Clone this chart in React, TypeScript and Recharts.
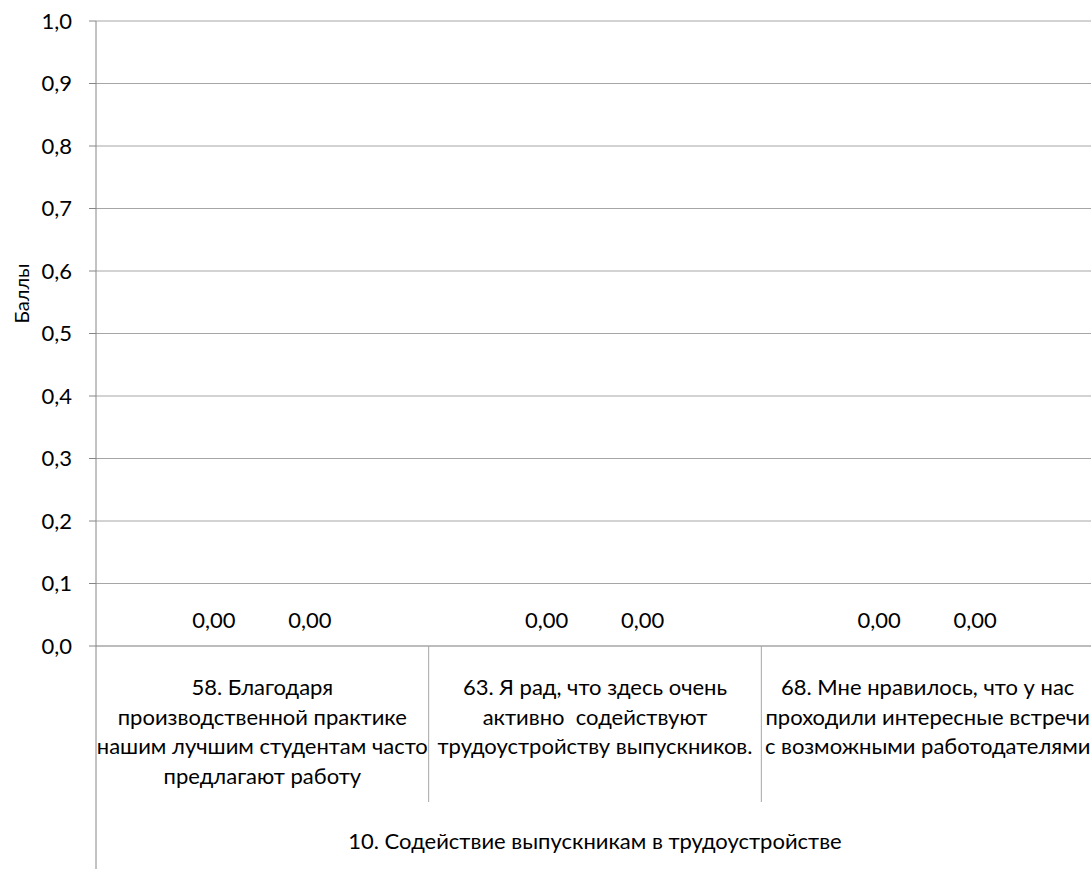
import { BarChart, Bar, XAxis, YAxis, CartesianGrid, LabelList } from "recharts";

// categories (full text) and how they wrap under the axis
const categories = [
    "58. Благодаря производственной практике нашим лучшим студентам часто предлагают работу",
    "63. Я рад, что здесь очень активно  содействуют трудоустройству выпускников.",
    "68. Мне нравилось, что у нас проходили интересные встречи с возможными работодателями",
];
const categoryLines = [
    ["58. Благодаря", "производственной практике", "нашим лучшим студентам часто", "предлагают работу"],
    ["63. Я рад, что здесь очень", "активно  содействуют", "трудоустройству выпускников."],
    ["68. Мне нравилось, что у нас", "проходили интересные встречи", "с возможными работодателями"],
];
const groupLabel = "10. Содействие выпускникам в трудоустройстве";

const seriesA = [0, 0, 0];
const seriesB = [0, 0, 0];

const yTicks = [0, 0.1, 0.2, 0.3, 0.4, 0.5, 0.6, 0.7, 0.8, 0.9, 1.0];

const FONT = "Lato, 'Open Sans', sans-serif";
const FS = 22;
const CHART_W = 1100;
const CHART_H = 869;
const MARGIN = { top: 21, right: 6, left: 0, bottom: 0 };
const Y_AXIS_W = 96;
const X_AXIS_H = 223;
const PLOT_LEFT = MARGIN.left + Y_AXIS_W;
const PLOT_RIGHT = CHART_W - MARGIN.right;
const PLOT_BOTTOM = CHART_H - MARGIN.bottom - X_AXIS_H;
const BAND = (PLOT_RIGHT - PLOT_LEFT) / categories.length;

const data = categories.map((name, i) => ({
    name,
    a: seriesA[i],
    b: seriesB[i],
}));

const fmt = (v: number, digits: number) => v.toFixed(digits).replace(".", ",");

// eslint-disable-next-line @typescript-eslint/no-explicit-any
function CategoryTick({ x, payload, index }: any) {
    const lines = categoryLines[index] ?? [payload.value];
    const last = index === categories.length - 1;
    return (
        <g>
            {index === 0 && (
                <line x1={x - BAND / 2} x2={x - BAND / 2} y1={PLOT_BOTTOM} y2={CHART_H} stroke="#868686" />
            )}
            {!last && (
                <line x1={x + BAND / 2} x2={x + BAND / 2} y1={PLOT_BOTTOM} y2={PLOT_BOTTOM + 156} stroke="#a6a6a6" />
            )}
            <text x={x} y={PLOT_BOTTOM + 49} textAnchor="middle" fontSize={FS} fontFamily={FONT} fill="#000">
                {lines.map((ln: string, i: number) => (
                    <tspan key={i} x={x} dy={i === 0 ? 0 : 29.7} style={{ whiteSpace: "pre" }}>
                        {ln}
                    </tspan>
                ))}
            </text>
            {index === 1 && (
                <text
                    x={(PLOT_LEFT + PLOT_RIGHT) / 2}
                    y={PLOT_BOTTOM + 203}
                    textAnchor="middle"
                    fontSize={FS}
                    fontFamily={FONT}
                    fill="#000"
                >
                    {groupLabel}
                </text>
            )}
        </g>
    );
}

// eslint-disable-next-line @typescript-eslint/no-explicit-any
function ValueLabel(props: any) {
    const vb = props.viewBox ?? {};
    const x = Number(props.x ?? vb.x);
    const w = Number(props.width ?? vb.width);
    return (
        <text x={x + w / 2} y={PLOT_BOTTOM - 18} textAnchor="middle" fontSize={FS} fontFamily={FONT} fill="#000">
            {fmt(Number(props.value ?? 0), 2)}
        </text>
    );
}

export default function App() {
    return (
        <div style={{ position: "absolute", left: 0, top: 0, width: 1091, height: 869, overflow: "hidden", background: "#fff" }}>
            <BarChart width={CHART_W} height={CHART_H} data={data} margin={MARGIN} barCategoryGap="21%" barGap={0}>
                <CartesianGrid vertical={false} stroke="#a6a6a6" />
                <XAxis
                    dataKey="name"
                    height={X_AXIS_H}
                    interval={0}
                    tickLine={false}
                    axisLine={{ stroke: "#a6a6a6" }}
                    tick={<CategoryTick />}
                />
                <YAxis
                    width={Y_AXIS_W}
                    domain={[0, 1]}
                    ticks={yTicks}
                    tickFormatter={(v: number) => fmt(v, 1)}
                    tickSize={7}
                    tickMargin={17}
                    axisLine={{ stroke: "#868686" }}
                    tickLine={{ stroke: "#868686" }}
                    tick={{ fontSize: FS, fontFamily: FONT, fill: "#000" }}
                    label={{
                        value: "Баллы",
                        angle: -90,
                        position: "insideLeft",
                        dx: 17,
                        dy: -40,
                        style: { fontSize: 20, fontFamily: FONT, fill: "#000", textAnchor: "middle" },
                    }}
                />
                {/* zero-height bars get no labels in recharts 3, so give them a hairline and hide the fill */}
                <Bar dataKey="a" fill="#4f81bd" fillOpacity={0} minPointSize={1} isAnimationActive={false}>
                    <LabelList dataKey="a" content={<ValueLabel />} />
                </Bar>
                <Bar dataKey="b" fill="#c0504d" fillOpacity={0} minPointSize={1} isAnimationActive={false}>
                    <LabelList dataKey="b" content={<ValueLabel />} />
                </Bar>
            </BarChart>
        </div>
    );
}
